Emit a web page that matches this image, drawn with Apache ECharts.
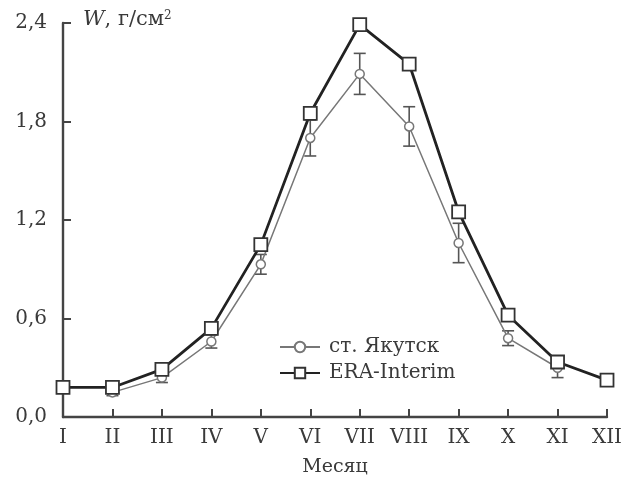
<!DOCTYPE html>
<html><head><meta charset="utf-8">
<script src="https://cdn.jsdelivr.net/npm/echarts@6/dist/echarts.min.js"></script>
<style>html,body{margin:0;padding:0;background:#fff}#c{width:637px;height:478px}</style>
</head><body><div id="c"></div>
<script>
var months = ['I','II','III','IV','V','VI','VII','VIII','IX','X','XI','XII'];
var yakutsk = [null,0.15,0.24,0.46,0.93,1.70,2.09,1.77,1.06,0.48,0.30,null];
var yakutskErr = [null,0.02,0.03,0.04,0.06,0.11,0.125,0.12,0.12,0.045,0.06,null];
var era = [0.18,0.18,0.29,0.54,1.05,1.85,2.39,2.15,1.25,0.62,0.335,0.225];
var yTicks = [0, 0.6, 1.2, 1.8, 2.4];

var errData = [];
for (var i = 0; i < months.length; i++) {
  if (yakutsk[i] != null) errData.push([i, yakutsk[i] - yakutskErr[i], yakutsk[i] + yakutskErr[i]]);
}
var font = '"DejaVu Serif", "Liberation Serif", serif';
var col = '#3a3a3a';
var chart = echarts.init(document.getElementById('c'));
chart.setOption({
  animation: false,
  backgroundColor: '#fff',
  grid: {left: 63, right: 30, top: 23, bottom: 61, containLabel: false, outerBoundsMode: 'none'},
  legend: {
    left: 274, top: 332, orient: 'vertical', itemGap: 6, itemWidth: 40, itemHeight: 13,
    textStyle: {fontFamily: font, fontSize: 20, color: col, padding: [0, 0, 0, 4]},
    data: ['ст. Якутск', 'ERA-Interim']
  },
  xAxis: {
    type: 'category', data: months, boundaryGap: false,
    name: 'Месяц', nameLocation: 'middle', nameGap: 41,
    nameTextStyle: {fontFamily: font, fontSize: 19, color: col},
    axisLine: {lineStyle: {color: '#444', width: 2.4}},
    axisTick: {inside: true, length: 8, alignWithLabel: true, lineStyle: {color: '#444', width: 2}},
    axisLabel: {fontFamily: font, fontSize: 20, color: col, margin: 11, interval: 0},
    splitLine: {show: false}
  },
  yAxis: {
    type: 'value', min: 0, max: 2.4, interval: 0.6,
    axisLine: {show: true, lineStyle: {color: '#444', width: 2.4}},
    axisTick: {show: true, inside: true, length: 8, lineStyle: {color: '#444', width: 2}},
    axisLabel: {fontFamily: font, fontSize: 20, color: col, margin: 16,
      formatter: function (v) { return v.toFixed(1).replace('.', ','); }},
    splitLine: {show: false},
    name: '{w|W}, г/см{s|2}', nameLocation: 'end', nameGap: 3,
    nameTextStyle: {align: 'left', verticalAlign: 'middle', padding: [0, 0, 0, 20], fontFamily: font, fontSize: 21, color: col,
      rich: {w: {fontStyle: 'italic', fontFamily: font, fontSize: 21, color: col},
             s: {fontFamily: font, fontSize: 12, verticalAlign: 'top', color: col, padding: [0, 0, 9, 0]}}}
  },
  series: [
    {
      name: 'ст. Якутск', type: 'line', data: yakutsk, z: 3,
      symbol: 'circle', symbolSize: 9, showAllSymbol: true,
      lineStyle: {color: '#777', width: 1.5},
      itemStyle: {color: '#fff', borderColor: '#777', borderWidth: 1.5}
    },
    {
      name: 'ERA-Interim', type: 'line', data: era, z: 4,
      symbol: 'rect', symbolSize: 13, showAllSymbol: true,
      lineStyle: {color: '#222', width: 2.8},
      itemStyle: {color: '#fff', borderColor: '#333', borderWidth: 1.8}
    },
    {
      type: 'custom', data: errData, z: 2, silent: true,
      renderItem: function (params, api) {
        var x = api.value(0);
        var lo = api.coord([x, api.value(1)]);
        var hi = api.coord([x, api.value(2)]);
        var w = 6;
        var st = {stroke: '#555', lineWidth: 1.6, fill: null};
        return {type: 'group', children: [
          {type: 'line', shape: {x1: lo[0], y1: lo[1], x2: hi[0], y2: hi[1]}, style: st},
          {type: 'line', shape: {x1: lo[0] - w, y1: lo[1], x2: lo[0] + w, y2: lo[1]}, style: st},
          {type: 'line', shape: {x1: hi[0] - w, y1: hi[1], x2: hi[0] + w, y2: hi[1]}, style: st}
        ]};
      }
    }
  ]
});
</script></body></html>
